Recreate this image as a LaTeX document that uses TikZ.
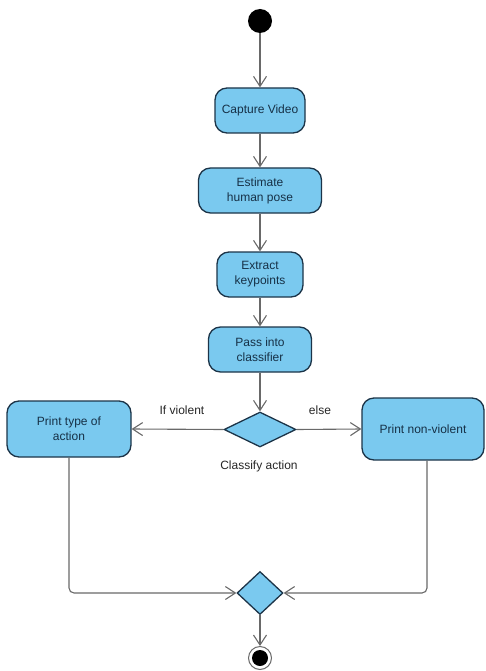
\documentclass[tikz,border=0pt]{standalone}
\usepackage{fontspec}
\setmainfont{Liberation Sans}
\usetikzlibrary{arrows.meta,shapes.geometric}
\definecolor{actfill}{RGB}{122,201,239}
\definecolor{actdraw}{RGB}{28,52,72}
\definecolor{acttext}{RGB}{22,48,70}
\definecolor{flowgray}{RGB}{105,105,105}
\begin{document}
\begin{tikzpicture}[x=1pt,y=-1pt,
  action/.style={draw=actdraw, fill=actfill, line width=1.3pt, rounded corners=12pt,
    align=center, text=acttext, font=\fontsize{12}{15}\selectfont, inner sep=0pt},
  choice/.style={diamond, draw=actdraw, fill=actfill, line width=1.3pt, inner sep=0pt},
  flow/.style={draw=flowgray, line width=1.1pt,
    -{Straight Barb[length=10pt,width=13pt,line width=1.1pt]}},
  lbl/.style={text=black!85, font=\fontsize{12}{15}\selectfont, inner sep=0pt}]
  \useasboundingbox (0,0) rectangle (486,671);

  % start and activities
  \node[circle, fill=black, minimum size=24pt, inner sep=0pt] (start) at (260,21) {};
  \node[action, minimum width=90pt, minimum height=45pt] (cap) at (260,110.5) {Capture Video};
  \node[action, minimum width=123pt, minimum height=45pt] (pose) at (260,190.5) {Estimate\\human pose};
  \node[action, minimum width=86pt, minimum height=45pt] (kp) at (260,274.5) {Extract\\keypoints};
  \node[action, minimum width=103pt, minimum height=45pt] (cls) at (260,349.5) {Pass into\\classifier};

  % decision
  \node[choice, minimum width=72pt, minimum height=35pt] (dec) at (260,429.5) {};
  \node[lbl] (declbl) at (259,466) {Classify action};
  \node[action, minimum width=124pt, minimum height=56pt] (viol) at (69,429) {Print type of\\action};
  \node[action, minimum width=122pt, minimum height=62pt] (nonv) at (423,429) {Print non-violent};
  \node[lbl] (iflbl) at (182,410) {If violent};
  \node[lbl] (elselbl) at (320,410) {else};

  % merge and end
  \node[choice, minimum width=46pt, minimum height=43pt] (merge) at (260,593) {};
  \node[circle, draw=flowgray, fill=white, line width=1pt, minimum size=23pt, inner sep=0pt] (end) at (260,658) {};
  \fill[black] (end.center) circle (8);

  % control flow
  \draw[flow] (start) -- (cap);
  \draw[flow] (cap) -- (pose);
  \draw[flow] (pose) -- (kp);
  \draw[flow] (kp) -- (cls);
  \draw[flow] (cls) -- (dec);
  \draw[flow] (dec.west) -- (viol.east);
  \draw[flow] (dec.east) -- (nonv.west);
  \draw[flow, rounded corners=5pt] (viol.south) |- (merge.west);
  \draw[flow, rounded corners=5pt] ([xshift=4pt]nonv.south) |- (merge.east);
  \draw[flow] (merge.south) -- (end.north);
\end{tikzpicture}
\end{document}
